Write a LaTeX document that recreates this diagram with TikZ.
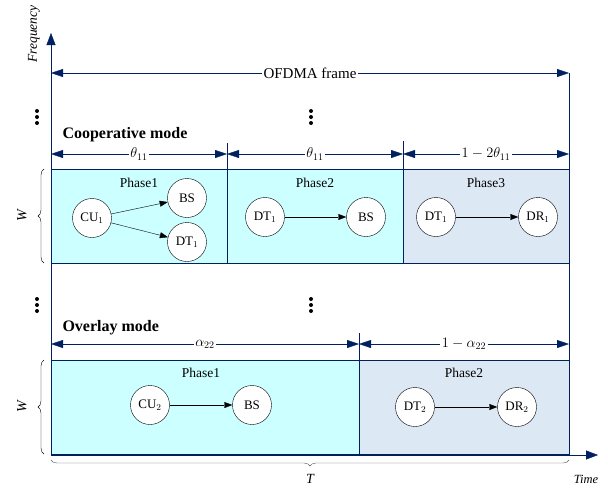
\documentclass[tikz,border=0pt]{standalone}
\usepackage{fontspec}
\setmainfont{Liberation Serif}
\usetikzlibrary{arrows.meta,decorations.pathreplacing,positioning}
\definecolor{navy}{RGB}{0,32,96}
\definecolor{coopfill}{RGB}{204,255,255}
\definecolor{relayfill}{RGB}{221,232,245}

\begin{document}
\begin{tikzpicture}[x=1pt,y=-1pt,
	user/.style={circle,draw,fill=white,minimum size=39pt,inner sep=0pt,font=\fontsize{13}{15}\selectfont},
	link/.style={-{Triangle[length=8pt,width=6pt]}},
	dim/.style={navy,{Triangle[length=12pt,width=8pt]}-{Triangle[length=12pt,width=8pt]}},
	lbl/.style={fill=white,inner sep=1.5pt,text=black,font=\fontsize{14}{16}\selectfont},
	phase/.style={font=\fontsize{13.5}{16}\selectfont},
	mode/.style={font=\fontsize{16}{18}\selectfont\bfseries,anchor=west},
	axis/.style={navy,-{Triangle[length=12pt,width=9pt]}}]
	\useasboundingbox (0,0) rectangle (608,491);

	% axes and frame
	\coordinate (o) at (51,455);
	\coordinate (ftop) at (51,33);
	\coordinate (tend) at (598,455);
	\draw[axis] (o) -- (ftop);
	\draw[axis] (o) -- (tend);
	\node[rotate=90,font=\fontsize{13.5}{16}\selectfont\itshape] (freq) at (34,34) {Frequency};
	\node[font=\fontsize{12.5}{15}\selectfont\itshape] (time) at (586,479) {Time};
	\draw[navy] (569,73) -- (569,455);
	\draw[dim] (51,73) -- node[lbl,font=\fontsize{15}{18}\selectfont] (frame) {OFDMA frame} (569,73);

	% dots
	\foreach \x/\y in {37/117, 311/117, 37/305, 311/305}
		\foreach \d in {-6,0,6}
			\fill (\x,\y+\d) circle (2);

	% cooperative mode
	\node[mode] (coop) at (59,135) {Cooperative mode};
	\draw[navy,fill=coopfill] (51,169) rectangle (227,263);
	\draw[navy,fill=coopfill] (227,169) rectangle (403,263);
	\draw[navy,fill=relayfill] (403,169) rectangle (569,263);
	\draw[navy] (227,143) -- (227,169);
	\draw[navy] (403,141) -- (403,169);
	\draw[dim] (51,154) -- node[lbl] {$\theta_{11}$} (227,154);
	\draw[dim] (227,154) -- node[lbl] {$\theta_{11}$} (403,154);
	\draw[dim] (403,154) -- node[lbl] {$1-2\theta_{11}$} (569,154);
	\node[phase] (p11) at (139,183) {Phase1};
	\node[phase] (p12) at (315,183) {Phase2};
	\node[phase] (p13) at (486,183) {Phase3};
	\node[user] (cu1) at (92,218) {CU$_1$};
	\node[user] (bs1) at (187,198) {BS};
	\node[user] (dt1) at (187,242) {DT$_1$};
	\node[user] (dt1b) at (265,217) {DT$_1$};
	\node[user] (bs2) at (366,217) {BS};
	\node[user] (dt1c) at (436,217) {DT$_1$};
	\node[user] (dr1) at (538,217) {DR$_1$};
	\draw[link] (cu1) -- (bs1);
	\draw[link] (cu1) -- (dt1);
	\draw[link] (dt1b) -- (bs2);
	\draw[link] (dt1c) -- (dr1);
	\draw[decorate,decoration={brace,amplitude=6pt}] (44,263) -- (44,169);
	\node[rotate=90,font=\fontsize{14}{16}\selectfont\itshape] (w1) at (22,216) {W};

	% overlay mode
	\node[mode] (over) at (59,328) {Overlay mode};
	\draw[navy,fill=coopfill] (51,360) rectangle (359,454);
	\draw[navy,fill=relayfill] (359,360) rectangle (569,454);
	\draw[navy] (359,333) -- (359,360);
	\draw[dim] (51,344) -- node[lbl] {$\alpha_{22}$} (359,344);
	\draw[dim] (359,344) -- node[lbl] {$1-\alpha_{22}$} (569,344);
	\node[phase] (p21) at (201,373) {Phase1};
	\node[phase] (p22) at (464,373) {Phase2};
	\node[user] (cu2) at (150,405) {CU$_2$};
	\node[user] (bs3) at (252,405) {BS};
	\node[user] (dt2) at (415,407) {DT$_2$};
	\node[user] (dr2) at (517,407) {DR$_2$};
	\draw[link] (cu2) -- (bs3);
	\draw[link] (dt2) -- (dr2);
	\draw[decorate,decoration={brace,amplitude=6pt}] (44,454) -- (44,360);
	\node[rotate=90,font=\fontsize{14}{16}\selectfont\itshape] (w2) at (22,407) {W};

	% time span
	\draw[gray!70!black,decorate,decoration={brace,amplitude=6pt}] (569,460) -- (51,460);
	\node[font=\fontsize{14}{16}\selectfont\itshape] (t) at (310,479) {T};
\end{tikzpicture}
\end{document}
